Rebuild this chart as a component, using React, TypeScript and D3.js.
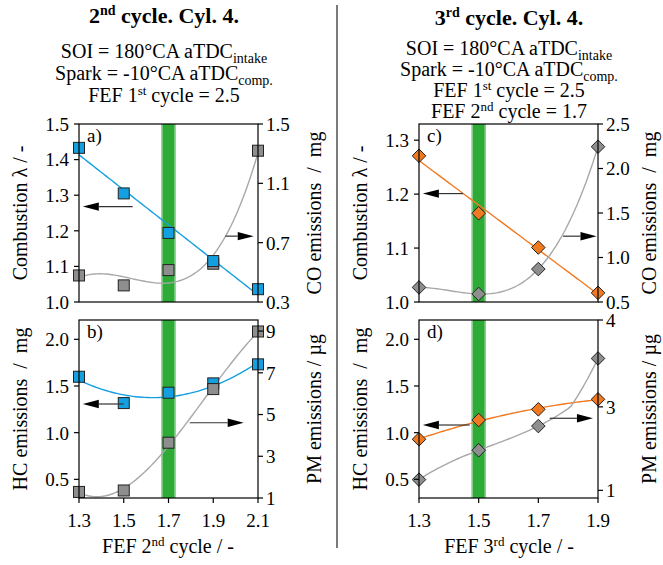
import React from 'react';
import * as d3 from 'd3';

// 2nd cycle sweep (left column)
const fef2 = [1.3, 1.5, 1.7, 1.9, 2.1];
const lambda2 = [1.433, 1.305, 1.194, 1.115, 1.036];
const co2 = [0.479, 0.412, 0.515, 0.558, 1.32];
const hc2 = [1.599, 1.317, 1.428, 1.528, 1.732];
const pm2 = [1.29, 1.36, 3.65, 6.22, 8.98];

// 3rd cycle sweep (right column)
const fef3 = [1.3, 1.5, 1.7, 1.9];
const lambda3 = [1.271, 1.1645, 1.101, 1.017];
const co3 = [0.664, 0.59, 0.87, 2.245];
const hc3 = [0.929, 1.135, 1.25, 1.357];
const pm3 = [1.257, 1.96, 2.54, 3.557];

const lambdaTicks2 = [1.0, 1.1, 1.2, 1.3, 1.4, 1.5];
const coTicks2 = [0.3, 0.7, 1.1, 1.5];
const hcTicks = [0.5, 1.0, 1.5, 2.0];
const pmTicks2 = [1, 3, 5, 7, 9];
const lambdaTicks3 = [1.0, 1.1, 1.2, 1.3];
const coTicks3 = [0.5, 1.0, 1.5, 2.0, 2.5];
const pmTicks3 = [1, 3, 4];

const selected2 = 1.7;
const selected3 = 1.5;

const SERIF = 'Liberation Serif, DejaVu Serif, Times New Roman, serif';
const BLUE = '#14a0e0';
const ORANGE = '#f07a22';
const GREY_FILL = '#8e8e8e';
const GREY_LINE = '#a8a8a8';
const GREEN = '#2eab37';

function polyfit(xs, ys, deg) {
  const mx = d3.mean(xs);
  const n = deg + 1;
  const A = d3.range(n).map(() => new Array(n + 1).fill(0));
  xs.forEach((x0, i) => {
    const x = x0 - mx;
    for (let r = 0; r < n; r++) {
      for (let c = 0; c < n; c++) A[r][c] += Math.pow(x, r + c);
      A[r][n] += ys[i] * Math.pow(x, r);
    }
  });
  for (let p = 0; p < n; p++) {
    let best = p;
    for (let r = p + 1; r < n; r++) if (Math.abs(A[r][p]) > Math.abs(A[best][p])) best = r;
    [A[p], A[best]] = [A[best], A[p]];
    for (let r = 0; r < n; r++) {
      if (r === p) continue;
      const f = A[r][p] / A[p][p];
      for (let c = p; c <= n; c++) A[r][c] -= f * A[p][c];
    }
  }
  const coef = A.map((row, i) => row[n] / row[i]);
  return (x) => coef.reduce((s, c, i) => s + c * Math.pow(x - mx, i), 0);
}

function Arrow({ x1, x2, y }) {
  const dir = x2 > x1 ? 1 : -1;
  const head = 16;
  const hw = 4.2;
  return (
    <g>
      <line x1={x1} x2={x2 - dir * head} y1={y} y2={y} stroke="#333" strokeWidth={1.2} />
      <path d={`M${x2},${y}L${x2 - dir * head},${y - hw}L${x2 - dir * head},${y + hw}Z`} fill="#000" />
    </g>
  );
}

function Marker({ shape, x, y, fill }) {
  if (shape === 'square') {
    return <rect x={x - 5.5} y={y - 5.5} width={11} height={11} fill={fill} stroke="#222" strokeWidth={1} />;
  }
  const r = 6.8;
  return <path d={`M${x},${y - r}L${x + r},${y}L${x},${y + r}L${x - r},${y}Z`} fill={fill} stroke="#222" strokeWidth={1} />;
}

function Panel(props) {
  const { box, xs, xDomain, xTicks, showX, left, right, series, band, arrows, letter, shape, rightFirst } = props;
  const [x0, x1, y0, y1] = box;
  const x = d3.scaleLinear().domain(xDomain).range([x0, x1]);
  const yl = d3.scaleLinear().domain(left.domain).range([y1, y0]);
  const yr = right.scale(y0, y1);
  const fmtL = d3.format(left.fmt);
  const fmtR = d3.format(right.fmt);
  const sample = d3.range(0, 61).map((i) => xs[0] + (i / 60) * (xs[xs.length - 1] - xs[0]));

  const drawn = series.map((s) => {
    const sc = s.axis === 'left' ? yl : yr;
    const fit = polyfit(xs, s.y, s.deg);
    const line = d3.line().x((d) => x(d)).y((d) => sc(fit(d)));
    return { ...s, sc, path: line(sample) };
  });
  const order = rightFirst ? [1, 0] : [0, 1];

  return (
    <g>
      <rect x={x(band) - 7} y={y0} width={14} height={y1 - y0} fill={GREEN} />
      <rect x={x(band) - 7} y={y0} width={1.2} height={y1 - y0} fill="#8fd394" />
      <rect x={x(band) + 5.8} y={y0} width={1.2} height={y1 - y0} fill="#8fd394" />
      {drawn.map((s, i) => (
        <path key={'l' + i} d={s.path} fill="none" stroke={s.line} strokeWidth={1.4} />
      ))}
      {order.map((k) => (
        <g key={'m' + k}>
          {xs.map((v, i) => (
            <Marker key={i} shape={shape} x={x(v)} y={drawn[k].sc(drawn[k].y[i])} fill={drawn[k].fill} />
          ))}
        </g>
      ))}
      <rect x={x0} y={y0} width={x1 - x0} height={y1 - y0} fill="none" stroke="#000" strokeWidth={1.2} />
      {left.ticks.map((t) => (
        <g key={'yl' + t}>
          <line x1={x0 - 5} x2={x0} y1={yl(t)} y2={yl(t)} stroke="#000" strokeWidth={1.2} />
          <text x={x0 - 10} y={yl(t)} dy="0.36em" textAnchor="end" fontSize={19}>{fmtL(t)}</text>
        </g>
      ))}
      {right.ticks.map((t) => (
        <g key={'yr' + t}>
          <line x1={x1} x2={x1 + 5} y1={yr(t)} y2={yr(t)} stroke="#000" strokeWidth={1.2} />
          <text x={x1 + 8} y={yr(t)} dy="0.36em" textAnchor="start" fontSize={19}>{fmtR(t)}</text>
        </g>
      ))}
      {showX && xTicks.map((t) => (
        <g key={'x' + t}>
          <line x1={x(t)} x2={x(t)} y1={y1} y2={y1 + 5} stroke="#000" strokeWidth={1.2} />
          <text x={x(t)} y={y1 + 29} textAnchor="middle" fontSize={19}>{d3.format('.1f')(t)}</text>
        </g>
      ))}
      {arrows.map((a, i) => {
        const sc = a.axis === 'left' ? yl : yr;
        return <Arrow key={'a' + i} x1={x(a.from)} x2={x(a.to)} y={sc(a.y)} />;
      })}
      <text x={x0 + 8} y={y0 + 18} fontSize={19}>{letter}</text>
      <text transform={`translate(${left.labelX},${(y0 + y1) / 2}) rotate(-90)`} textAnchor="middle" fontSize={20} style={{ whiteSpace: 'pre' }}>
        {left.label}
      </text>
      <text transform={`translate(${right.labelX},${(y0 + y1) / 2}) rotate(-90)`} textAnchor="middle" fontSize={20} style={{ whiteSpace: 'pre' }}>
        {right.label}
      </text>
    </g>
  );
}

const linear = (domain) => (y0, y1) => d3.scaleLinear().domain(domain).range([y1, y0]);

function Header({ cx, title, lines }) {
  return (
    <g textAnchor="middle">
      <text x={cx} y={title.y} fontSize={22} fontWeight="bold">
        {title.pre}
        <tspan fontSize={14} dy={-8}>{title.sup}</tspan>
        <tspan dy={8}>{title.post}</tspan>
      </text>
      {lines.map((l, i) => (
        <text key={i} x={cx} y={l.y} fontSize={20}>
          {l.pre}
          {l.sup && <tspan fontSize={13} dy={-7}>{l.sup}</tspan>}
          {l.sub && <tspan fontSize={14} dy={5}>{l.sub}</tspan>}
          {l.post && <tspan dy={l.sup ? 7 : -5}>{l.post}</tspan>}
        </text>
      ))}
    </g>
  );
}

function XTitle({ cx, y, num, sup }) {
  return (
    <text x={cx} y={y} fontSize={20} textAnchor="middle">
      FEF {num}
      <tspan fontSize={13} dy={-7}>{sup}</tspan>
      <tspan dy={7}> cycle / -</tspan>
    </text>
  );
}

export default function App() {
  const colL = [79, 258];
  const colR = [419, 598];
  const rowT = [124, 302];
  const rowB = [320, 498];
  const hcLeft = { domain: [0.3, 2.207], ticks: hcTicks, fmt: '.1f', label: 'HC emissions  /  mg' };

  return (
    <svg width={663} height={565} style={{ position: 'absolute', left: 0, top: 0, background: '#fff', fontFamily: SERIF }}>
      <Header
        cx={164}
        title={{ y: 23, pre: '2', sup: 'nd', post: ' cycle. Cyl. 4.' }}
        lines={[
          { y: 58, pre: 'SOI = 180°CA aTDC', sub: 'intake' },
          { y: 80, pre: 'Spark = -10°CA aTDC', sub: 'comp.' },
          { y: 102, pre: 'FEF 1', sup: 'st', post: ' cycle = 2.5' },
        ]}
      />
      <Header
        cx={509}
        title={{ y: 25, pre: '3', sup: 'rd', post: ' cycle. Cyl. 4.' }}
        lines={[
          { y: 55, pre: 'SOI = 180°CA aTDC', sub: 'intake' },
          { y: 76, pre: 'Spark = -10°CA aTDC', sub: 'comp.' },
          { y: 97, pre: 'FEF 1', sup: 'st', post: ' cycle = 2.5' },
          { y: 118, pre: 'FEF 2', sup: 'nd', post: ' cycle = 1.7' },
        ]}
      />
      <line x1={337} x2={337} y1={5} y2={548} stroke="#7a7a7a" strokeWidth={2} />

      <Panel
        box={[colL[0], colL[1], rowT[0], rowT[1]]}
        xs={fef2} xDomain={[1.3, 2.1]} xTicks={fef2} showX={false}
        left={{ domain: [1.0, 1.5], ticks: lambdaTicks2, fmt: '.1f', label: 'Combustion λ / -', labelX: 27 }}
        right={{ scale: linear([0.3, 1.5]), ticks: coTicks2, fmt: '.1f', label: 'CO emissions  /  mg', labelX: 321 }}
        series={[
          { y: lambda2, axis: 'left', fill: BLUE, line: BLUE, deg: 1 },
          { y: co2, axis: 'right', fill: GREY_FILL, line: GREY_LINE, deg: 3 },
        ]}
        rightFirst={true}
        band={selected2} shape="square" letter="a)"
        arrows={[
          { from: 1.54, to: 1.317, y: 1.268, axis: 'left' },
          { from: 1.954, to: 2.081, y: 1.185, axis: 'left' },
        ]}
      />
      <Panel
        box={[colL[0], colL[1], rowB[0], rowB[1]]}
        xs={fef2} xDomain={[1.3, 2.1]} xTicks={fef2} showX={true}
        left={{ ...hcLeft, labelX: 27 }}
        right={{ scale: linear([1, 9.53]), ticks: pmTicks2, fmt: 'd', label: 'PM emissions / µg', labelX: 321 }}
        series={[
          { y: hc2, axis: 'left', fill: BLUE, line: BLUE, deg: 2 },
          { y: pm2, axis: 'right', fill: GREY_FILL, line: GREY_LINE, deg: 3 },
        ]}
        rightFirst={false}
        band={selected2} shape="square" letter="b)"
        arrows={[
          { from: 1.5, to: 1.317, y: 1.307, axis: 'left' },
          { from: 1.795, to: 2.036, y: 1.106, axis: 'left' },
        ]}
      />
      <Panel
        box={[colR[0], colR[1], rowT[0], rowT[1]]}
        xs={fef3} xDomain={[1.3, 1.9]} xTicks={fef3} showX={false}
        left={{ domain: [1.0, 1.33], ticks: lambdaTicks3, fmt: '.1f', label: 'Combustion λ / -', labelX: 367 }}
        right={{ scale: linear([0.5, 2.5]), ticks: coTicks3, fmt: '.1f', label: 'CO emissions  /  mg', labelX: 656 }}
        series={[
          { y: lambda3, axis: 'left', fill: ORANGE, line: ORANGE, deg: 1 },
          { y: co3, axis: 'right', fill: GREY_FILL, line: GREY_LINE, deg: 3 },
        ]}
        rightFirst={true}
        band={selected3} shape="diamond" letter="c)"
        arrows={[
          { from: 1.4475, to: 1.313, y: 1.201, axis: 'left' },
          { from: 1.783, to: 1.895, y: 1.122, axis: 'left' },
        ]}
      />
      <Panel
        box={[colR[0], colR[1], rowB[0], rowB[1]]}
        xs={fef3} xDomain={[1.3, 1.9]} xTicks={fef3} showX={true}
        left={{ ...hcLeft, labelX: 367 }}
        right={{
          scale: (y0, y1) => d3.scaleLinear().domain(pmTicks3).range([y1 - 0.043 * (y1 - y0), y1 - 0.512 * (y1 - y0), y0]),
          ticks: pmTicks3, fmt: 'd', label: 'PM emissions / µg', labelX: 656,
        }}
        series={[
          { y: hc3, axis: 'left', fill: ORANGE, line: ORANGE, deg: 2 },
          { y: pm3, axis: 'right', fill: GREY_FILL, line: GREY_LINE, deg: 3 },
        ]}
        rightFirst={true}
        band={selected3} shape="diamond" letter="d)"
        arrows={[
          { from: 1.47, to: 1.313, y: 1.082, axis: 'left' },
          { from: 1.738, to: 1.883, y: 1.154, axis: 'left' },
        ]}
      />
      <XTitle cx={168} y={553} num="2" sup="nd" />
      <XTitle cx={509} y={553} num="3" sup="rd" />
    </svg>
  );
}
